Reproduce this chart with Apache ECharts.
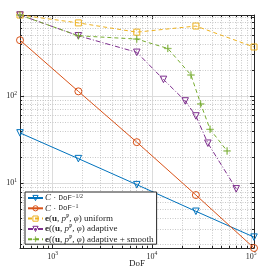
<!DOCTYPE html>
<html><head><meta charset="utf-8">
<script src="https://cdn.jsdelivr.net/npm/echarts@6/dist/echarts.min.js"></script>
<style>html,body{margin:0;padding:0;background:#fff}#c{width:270px;height:270px}</style>
</head><body><div id="c"></div>
<script>
// ---- data ----
const dofUniform = [470, 1820, 7060, 27800, 107000];
const refHalf = [37.7, 19.1, 9.6, 4.75, 2.4];       // C·DoF^{-1/2}
const refOne = [437, 113, 29.5, 7.3, 1.8];           // C·DoF^{-1}
const errUniform = [850, 690, 540, 635, 365];
const dofAdaptive = [470, 1820, 7060, 13100, 21700, 27800, 36700, 70800];
const errAdaptive = [850, 491, 317, 155, 87.7, 59, 28.7, 8.6];
const dofSmooth = [470, 1820, 7060, 14500, 24800, 31100, 38600, 57300];
const errSmooth = [850, 491, 450, 351, 174, 81, 41.5, 23.4];
const xRange = [470, 107000];
const yRange = [1.8, 850];
const xMinor = [500,600,700,800,900,2000,3000,4000,5000,6000,7000,8000,9000,20000,30000,40000,50000,60000,70000,80000,90000];
const yMinor = [2,3,4,5,6,7,8,9,20,30,40,50,60,70,80,90,200,300,400,500,600,700,800];
const legendNames = ['s1','s2','s3','s4','s5'];
const legendText = {
  s1: '{it|C} · {tt|DoF}{sup|−1/2}',
  s2: '{it|C} · {tt|DoF}{sup|−1}',
  s3: '{b|e}({b|u}, {it|p}{sup|P}, {it|φ}) uniform',
  s4: '{b|e}(({b|u}, {it|p}{sup|P}, {it|φ}) adaptive',
  s5: '{b|e}(({b|u}, {it|p}{sup|P}, {it|φ}) adaptive + smooth'
};
// ---- chart ----
const SERIF = 'Liberation Serif';
const COLORS = {s1: '#0072BD', s2: '#D95319', s3: '#EDB120', s4: '#7E2F8E', s5: '#77AC30'};
const HOLLOW = 'rgba(255,255,255,0)';
const zip = (a, b) => a.map((v, i) => [v, b[i]]);
const chart = echarts.init(document.getElementById('c'), null, {renderer: 'canvas'});
const powLabel = v => {
  const e = Math.log10(v);
  if (Math.abs(e - Math.round(e)) > 1e-6) return '';
  return '{n|10}{s|' + Math.round(e) + '}';
};
const labRich = {
  n: {fontFamily: SERIF, fontSize: 8, color: '#262626', lineHeight: 9},
  s: {fontFamily: SERIF, fontSize: 5.5, color: '#262626', padding: [0, 0, 5, 0], lineHeight: 9}
};
function minorRender(isX) {
  return function (params, api) {
    const cs = params.coordSys;
    const p = api.coord([api.value(0), api.value(1)]);
    const ls = {stroke: '#c8c8c8', lineWidth: 1, lineDash: [1, 1.5]};
    const ts = {stroke: '#262626', lineWidth: 1};
    if (isX) {
      const x = Math.round(p[0]) + 0.5;
      return {type: 'group', children: [
        {type: 'line', shape: {x1: x, y1: cs.y, x2: x, y2: cs.y + cs.height}, style: ls},
        {type: 'line', shape: {x1: x, y1: cs.y + cs.height, x2: x, y2: cs.y + cs.height - 2}, style: ts},
        {type: 'line', shape: {x1: x, y1: cs.y, x2: x, y2: cs.y + 2}, style: ts}
      ]};
    } else {
      const y = Math.round(p[1]) + 0.5;
      return {type: 'group', children: [
        {type: 'line', shape: {x1: cs.x, y1: y, x2: cs.x + cs.width, y2: y}, style: ls},
        {type: 'line', shape: {x1: cs.x, y1: y, x2: cs.x + 2, y2: y}, style: ts},
        {type: 'line', shape: {x1: cs.x + cs.width, y1: y, x2: cs.x + cs.width - 2, y2: y}, style: ts}
      ]};
    }
  };
}
const plus = 'path://M4.6,0h0.8v10h-0.8z M0,4.6h10v0.8h-10z';
const markerStyle = n => n === 's5'
  ? {color: COLORS[n], borderColor: COLORS[n], borderWidth: 0.4}
  : {color: HOLLOW, borderColor: COLORS[n], borderWidth: 1};
const mkLine = (name, xs, ys, type, symbol, size, rot) => ({
  name, type: 'line', data: zip(xs, ys), xAxisIndex: 0, yAxisIndex: 0,
  symbol, symbolSize: size, symbolRotate: rot || 0, showAllSymbol: true,
  lineStyle: {color: COLORS[name], width: 1, type},
  itemStyle: markerStyle(name),
  emphasis: {disabled: true}, animation: false, z: 3
});
const axisCommon = {
  type: 'log', logBase: 10, axisLine: {show: true, lineStyle: {color: '#262626', width: 1}},
  axisTick: {show: true, inside: true, length: 4, lineStyle: {color: '#262626'}}
};
const option = {
  animation: false,
  backgroundColor: '#fff',
  grid: {left: 20, right: 16, top: 15, bottom: 22, containLabel: false, outerBoundsMode: 'none'},
  xAxis: [
    Object.assign({}, axisCommon, {min: xRange[0], max: xRange[1], position: 'bottom',
      axisLabel: {formatter: powLabel, rich: labRich, margin: 4, showMinLabel: false, showMaxLabel: true},
      splitLine: {show: true, lineStyle: {color: '#dcdcdc', width: 1}},
      name: 'DoF', nameLocation: 'middle', nameGap: 11, nameMoveOverlap: false,
      nameTextStyle: {fontFamily: SERIF, fontSize: 9, color: '#262626', verticalAlign: 'top'}}),
    Object.assign({}, axisCommon, {min: xRange[0], max: xRange[1], position: 'top',
      axisLabel: {show: false}, splitLine: {show: false}})
  ],
  yAxis: [
    Object.assign({}, axisCommon, {min: yRange[0], max: yRange[1], position: 'left',
      axisLabel: {formatter: powLabel, rich: labRich, margin: 3},
      splitLine: {show: true, lineStyle: {color: '#dcdcdc', width: 1}}}),
    Object.assign({}, axisCommon, {min: yRange[0], max: yRange[1], position: 'right',
      axisLabel: {show: false}, splitLine: {show: false}})
  ],
  legend: {
    data: legendNames.map(n => ({name: n, itemStyle: markerStyle(n)})),
    orient: 'vertical', left: 25, top: 192,
    backgroundColor: '#fff', borderColor: '#262626', borderWidth: 1,
    padding: [1, 3, 0, 2], itemGap: 0.3, itemWidth: 15, itemHeight: 6.5,
    formatter: n => legendText[n],
    textStyle: {fontFamily: SERIF, fontSize: 9, color: '#262626', padding: [0, 0, 0, -3], lineHeight: 9,
      rich: {
        it: {fontFamily: SERIF, fontStyle: 'italic', fontSize: 9, color: '#262626', lineHeight: 9},
        tt: {fontFamily: 'Liberation Mono', fontSize: 7.5, color: '#262626', lineHeight: 9},
        b: {fontFamily: SERIF, fontWeight: 'bold', fontSize: 9, color: '#262626', lineHeight: 9},
        sup: {fontFamily: SERIF, fontSize: 6, color: '#262626', padding: [0, 0, 4, 0], lineHeight: 5}
      }},
    selectedMode: false
  },
  series: [
    {type: 'custom', name: 'gx', renderItem: minorRender(true), data: xMinor.map(v => [v, 10]),
      encode: {x: 0, y: 1}, silent: true, z: 1, clip: false},
    {type: 'custom', name: 'gy', renderItem: minorRender(false), data: yMinor.map(v => [1000, v]),
      encode: {x: 0, y: 1}, silent: true, z: 1, clip: false},
    mkLine('s1', dofUniform, refHalf, 'solid', 'triangle', 6.5, 180),
    mkLine('s2', dofUniform, refOne, 'solid', 'circle', 7),
    mkLine('s3', dofUniform, errUniform, [4, 3], 'rect', 6),
    mkLine('s4', dofAdaptive, errAdaptive, [5, 2, 1, 2], 'triangle', 6.5, 180),
    mkLine('s5', dofSmooth, errSmooth, [4, 3], plus, 7)
  ]
};
chart.setOption(option);
</script></body></html>
